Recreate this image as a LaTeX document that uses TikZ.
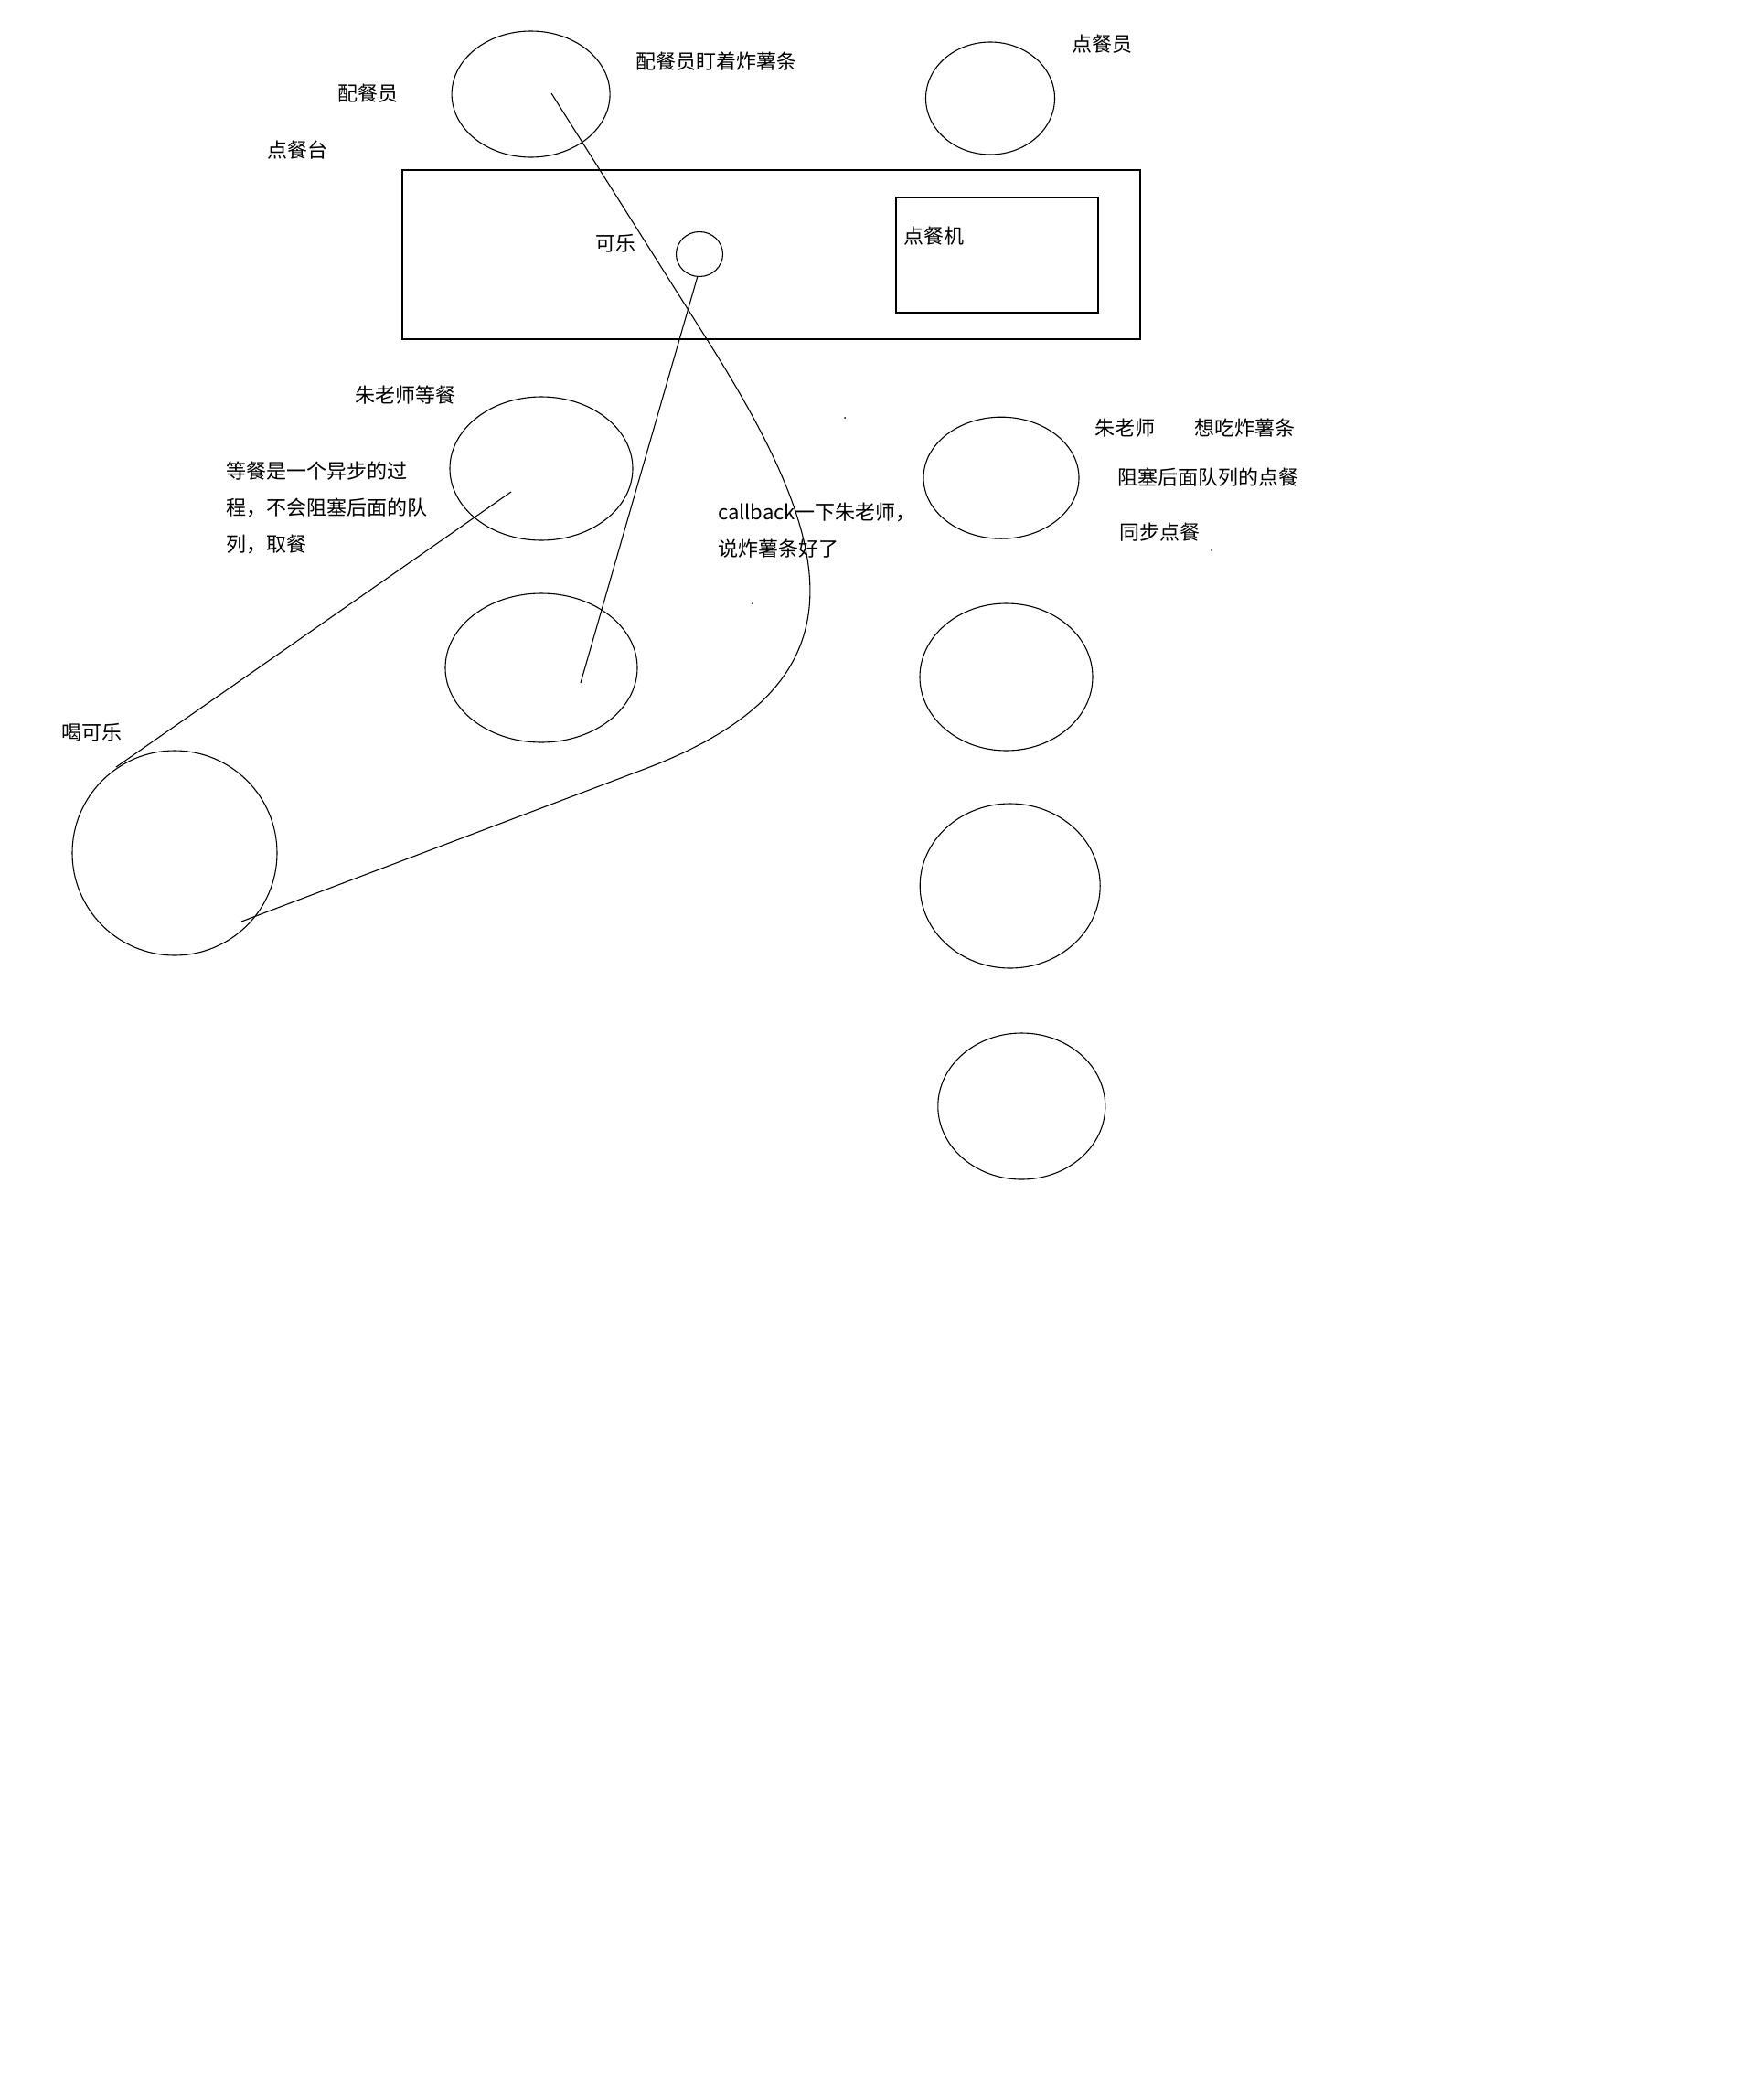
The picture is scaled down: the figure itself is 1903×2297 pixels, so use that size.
\documentclass[tikz,border=0pt]{standalone}
\usepackage{fontspec}
\setmainfont{Noto Sans CJK SC}
\usetikzlibrary{shapes.geometric}
\tikzset{oval/.style 2 args={ellipse, draw, inner sep=0pt, outer sep=0pt, minimum width=#1, minimum height=#2},
	txt/.style={anchor=base west, inner sep=0pt, outer sep=0pt, font=\fontsize{22}{26}\selectfont},
	punkt/.style={circle, fill=black, inner sep=0pt, minimum size=2pt}}

\begin{document}
\begin{tikzpicture}[x=1pt, y=-1pt, line width=1.1pt]
	\path[use as bounding box, fill=white] (0,0) rectangle (1903,2297);
	%Theke
	\draw (440,186) rectangle (1247,371);
	\draw (980,216) rectangle (1201,342);
	%Personen oben
	\node[oval={173}{138}] (peican) at (580.6,103) {};
	\node[oval={141}{123}] (diancan) at (1083,107.5) {};
	\node[oval={51}{49}] (kele) at (765,278) {};
	%Warteschlange links
	\node[oval={200}{157}] (zhuWait) at (592,512.5) {};
	\node[oval={210}{163}] (naechster) at (592,730.5) {};
	\node[oval={224}{224}] (trinken) at (191,933) {};
	%Warteschlange rechts
	\foreach \n/\x/\y/\w/\h in {q1/1095/522.7/170/133, q2/1100.5/740.5/189/161, q3/1104.7/969/197/180, q4/1117.3/1210/183/160} {
		\node[oval={\w}{\h}] (\n) at (\x,\y) {};
	}
	%Linien
	\coordinate (friesStart) at (603,102);
	\coordinate (friesEnd) at (264,1008);
	\coordinate (colaEnd) at (635,747);
	\coordinate (waitStart) at (559,538);
	\coordinate (waitEnd) at (127,839);
	\draw (friesStart) -- (773,371) .. controls (917.5,599) and (953,749.6) .. (700,843) -- (friesEnd);
	\draw (kele.265) -- (colaEnd);
	\draw (waitStart) -- (waitEnd);
	%Texte
	\draw (369,110) node[txt] (tPeican) {配餐员};
	\draw (292,172) node[txt] (tTheke) {点餐台};
	\draw (695,75) node[txt] (tFries) {配餐员盯着炸薯条};
	\draw (1172,56) node[txt] (tDiancan) {点餐员};
	\draw (988,266) node[txt] (tKasse) {点餐机};
	\draw (651,274) node[txt] (tKele) {可乐};
	\draw (388,440) node[txt] (tZhuWait) {朱老师等餐};
	\draw (247,523) node[txt] (tAsync1) {等餐是一个异步的过};
	\draw (247,563) node[txt] (tAsync2) {程，不会阻塞后面的队};
	\draw (247,603) node[txt] (tAsync3) {列，取餐};
	\draw (785,568) node[txt] (tCall1) {callback一下朱老师，};
	\draw (785,608) node[txt] (tCall2) {说炸薯条好了};
	\draw (1197,476) node[txt] (tZhu) {朱老师\hspace*{43pt}想吃炸薯条};
	\draw (1222,530) node[txt] (tBlock) {阻塞后面队列的点餐};
	\draw (1224,590) node[txt] (tSync) {同步点餐};
	\draw (67,809) node[txt] (tTrinken) {喝可乐};
	%Punkte
	\node[punkt] (dot1) at (924,457) {};
	\node[punkt] (dot2) at (823,660) {};
	\node[punkt] (dot3) at (1325,602) {};
\end{tikzpicture}
\end{document}
